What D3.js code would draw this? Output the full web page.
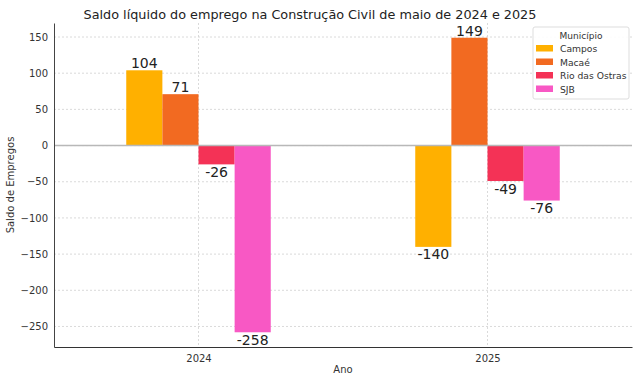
<!DOCTYPE html>
<html><head><meta charset="utf-8">
<script src="https://cdn.jsdelivr.net/npm/d3@7"></script>
<style>body{margin:0;background:#fff}svg{font-family:"DejaVu Sans",sans-serif}</style>
</head><body>
<script>
const years = ["2024", "2025"];
const municipios = ["Campos", "Macaé", "Rio das Ostras", "SJB"];
const campos = [104, -140];
const macae = [71, 149];
const rioDasOstras = [-26, -49];
const sjb = [-258, -76];
const yTicks = [150, 100, 50, 0, -50, -100, -150, -200, -250];
const colors = ["#ffb000", "#f26a21", "#f43256", "#f858c4"];

const series = [campos, macae, rioDasOstras, sjb];
const W = 640, H = 382;
const m = {l: 54, r: 632, t: 23, b: 347};
const svg = d3.select("body").append("svg").attr("width", W).attr("height", H);

const vmin = d3.min(series.flat()), vmax = d3.max(series.flat());
const pad = (vmax - vmin) * 0.05;
const y = d3.scaleLinear().domain([vmin - pad, vmax + pad]).range([m.b, m.t]);
const x = d3.scaleLinear().domain([-0.5, years.length - 0.5]).range([m.l, m.r]);
const bw = 0.5 / municipios.length;

// grid
svg.append("g").selectAll("line").data(yTicks).join("line")
  .attr("x1", m.l).attr("x2", m.r).attr("y1", d => y(d)).attr("y2", d => y(d))
  .attr("stroke", "#d0d0d0").attr("stroke-width", 0.8).attr("stroke-dasharray", "2,2");
svg.append("g").selectAll("line").data(years).join("line")
  .attr("x1", (d, i) => x(i)).attr("x2", (d, i) => x(i)).attr("y1", m.t).attr("y2", m.b)
  .attr("stroke", "#d0d0d0").attr("stroke-width", 0.8).attr("stroke-dasharray", "2,2");

// bars
municipios.forEach((mu, si) => {
  const g = svg.append("g");
  series[si].forEach((v, i) => {
    const x0 = x(i - 0.25 + si * bw), x1 = x(i - 0.25 + (si + 1) * bw);
    g.append("rect").attr("x", x0).attr("width", x1 - x0)
      .attr("y", y(Math.max(0, v))).attr("height", Math.abs(y(v) - y(0)))
      .attr("fill", colors[si]);
    g.append("text").attr("x", (x0 + x1) / 2)
      .attr("y", v >= 0 ? y(v) - 2 : y(v) + 12.5)
      .attr("text-anchor", "middle").attr("font-size", 14).attr("fill", "#222")
      .text(v);
  });
});

// zero line
svg.append("line").attr("x1", m.l).attr("x2", m.r).attr("y1", y(0)).attr("y2", y(0))
  .attr("stroke", "#b8b8b8").attr("stroke-width", 1.6);

// axes
const ya = svg.append("g").attr("transform", `translate(${m.l},0)`)
  .call(d3.axisLeft(y).tickValues(yTicks).tickSize(0).tickPadding(6).tickFormat(d => d < 0 ? "\u2212" + Math.abs(d) : d));
ya.select(".domain").attr("stroke", "#444").attr("stroke-width", 1);
ya.selectAll("text").attr("font-size", 10).attr("fill", "#333").attr("font-family", "DejaVu Sans");
const xa = svg.append("g").attr("transform", `translate(0,${m.b})`)
  .call(d3.axisBottom(x).tickValues(years.map((d, i) => i)).tickSize(0).tickPadding(8).tickFormat(i => years[i]));
xa.select(".domain").attr("stroke", "#333").attr("stroke-width", 1.2);
xa.selectAll("text").attr("font-size", 10).attr("fill", "#333").attr("font-family", "DejaVu Sans");

svg.append("text").attr("x", (m.l + m.r) / 2).attr("y", 373).attr("text-anchor", "middle")
  .attr("font-size", 10).attr("fill", "#333").text("Ano");
svg.append("text").attr("transform", `translate(14,${(m.t + m.b) / 2}) rotate(-90)`)
  .attr("text-anchor", "middle").attr("font-size", 10).attr("fill", "#333").text("Saldo de Empregos");
svg.append("text").attr("x", 310).attr("y", 19).attr("text-anchor", "middle")
  .attr("font-size", 12.8).attr("fill", "#222").text("Saldo líquido do emprego na Construção Civil de maio de 2024 e 2025");

// legend
const lg = svg.append("g").attr("transform", "translate(533,27)");
lg.append("rect").attr("width", 96).attr("height", 72).attr("fill", "#fff").attr("fill-opacity", 0.9)
  .attr("stroke", "#ddd").attr("rx", 2);
lg.append("text").attr("x", 48).attr("y", 12).attr("text-anchor", "middle").attr("font-size", 9).attr("fill", "#333").text("Município");
municipios.forEach((mu, i) => {
  lg.append("rect").attr("x", 3).attr("y", 18 + i * 13.5).attr("width", 17).attr("height", 6.5).attr("fill", colors[i]);
  lg.append("text").attr("x", 27).attr("y", 25 + i * 13.5).attr("font-size", 9.2).attr("fill", "#333").text(mu);
});
</script>
</body></html>
